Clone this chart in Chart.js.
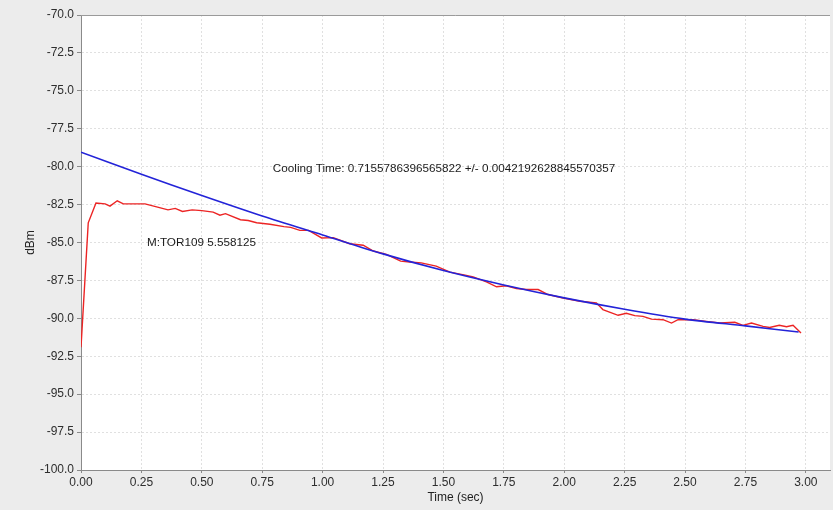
<!DOCTYPE html>
<html>
<head>
<meta charset="utf-8">
<script src="https://cdn.jsdelivr.net/npm/chart.js@4"></script>
<style>
  html, body { margin: 0; padding: 0; background: #ececec; }
  canvas { display: block; }
</style>
</head>
<body>
<canvas id="coolingChart" width="833" height="510"></canvas>
<script>
// measured trace (red)
const measuredTime = [0.000, 0.030, 0.062, 0.100, 0.120, 0.150, 0.175, 0.210, 0.265, 0.313,
  0.360, 0.390, 0.420, 0.460, 0.500, 0.547, 0.575, 0.598, 0.660, 0.692,
  0.727, 0.782, 0.840, 0.868, 0.906, 0.942, 0.996, 1.044, 1.112, 1.168,
  1.210, 1.264, 1.323, 1.360, 1.408, 1.470, 1.527, 1.590, 1.623, 1.678,
  1.720, 1.760, 1.802, 1.844, 1.892, 1.933, 1.995, 2.065, 2.133, 2.160,
  2.223, 2.257, 2.292, 2.326, 2.361, 2.409, 2.444, 2.471, 2.533, 2.588,
  2.644, 2.706, 2.740, 2.775, 2.823, 2.850, 2.890, 2.920, 2.947, 2.980];
const measuredDbm = [-91.9, -83.7, -82.4, -82.45, -82.6, -82.25, -82.45, -82.45, -82.45, -82.65,
  -82.85, -82.75, -82.95, -82.85, -82.9, -83.0, -83.2, -83.1, -83.5, -83.55,
  -83.7, -83.8, -83.95, -84.0, -84.2, -84.2, -84.7, -84.68, -85.08, -85.18,
  -85.56, -85.78, -86.23, -86.29, -86.34, -86.56, -86.95, -87.15, -87.27, -87.6,
  -87.92, -87.85, -88.03, -88.1, -88.1, -88.43, -88.66, -88.87, -88.98, -89.42,
  -89.8, -89.67, -89.82, -89.87, -90.05, -90.09, -90.31, -90.09, -90.09, -90.2,
  -90.31, -90.26, -90.46, -90.31, -90.53, -90.6, -90.46, -90.55, -90.46, -90.97];

// fitted curve (blue)
const fitTime = [0.00, 0.25, 0.50, 0.75, 1.00, 1.25, 1.50, 1.75, 2.00, 2.25, 2.50, 2.75, 2.97];
const fitDbm = [-79.05, -80.5, -81.9, -83.25, -84.5, -85.75, -86.85, -87.8, -88.65, -89.4, -90.05, -90.5, -90.9];

const xMin = 0, xMax = 3.1, xStep = 0.25;
const yMin = -100, yMax = -70, yStep = 2.5;

const coolingLabel = 'Cooling Time: 0.7155786396565822 +/- 0.0042192628845570357';
const markerLabel = 'M:TOR109 5.558125';

const toPoints = (xs, ys) => xs.map((x, i) => ({ x: x, y: ys[i] }));

const textFont = '"Liberation Sans", Arial, Helvetica, sans-serif';

// white plot area, grey outline, and the two text notes
const plotDecor = {
    id: 'plotDecor',
    beforeDraw(chart) {
        const { ctx, chartArea: a } = chart;
        ctx.save();
        ctx.fillStyle = '#ececec';
        ctx.fillRect(0, 0, chart.width, chart.height);
        ctx.fillStyle = '#ffffff';
        ctx.fillRect(a.left, a.top, a.right - a.left, a.bottom - a.top);
        ctx.restore();
    },
    afterDraw(chart) {
        const { ctx, chartArea: a, scales } = chart;
        ctx.save();
        ctx.strokeStyle = '#9a9a9a';
        ctx.lineWidth = 1;
        ctx.beginPath();
        ctx.moveTo(a.left, a.top + 0.5);
        ctx.lineTo(a.right, a.top + 0.5);
        ctx.stroke();

        ctx.fillStyle = '#1a1a1a';
        ctx.font = '11.7px ' + textFont;
        ctx.textBaseline = 'middle';
        ctx.textAlign = 'left';
        ctx.fillText(coolingLabel, scales.x.getPixelForValue(0.794), scales.y.getPixelForValue(-80.13));
        ctx.fillText(markerLabel, scales.x.getPixelForValue(0.273), scales.y.getPixelForValue(-85.03));
        ctx.restore();
    }
};

const ctx = document.getElementById('coolingChart').getContext('2d');

new Chart(ctx, {
    type: 'scatter',
    data: {
        datasets: [
            {
                label: 'Fit',
                data: toPoints(fitTime, fitDbm),
                showLine: true,
                borderColor: '#2323d8',
                borderWidth: 1.6,
                pointRadius: 0,
                tension: 0.3,
                fill: false
            },
            {
                label: 'TOR109',
                data: toPoints(measuredTime, measuredDbm),
                showLine: true,
                borderColor: '#ec2424',
                borderWidth: 1.4,
                pointRadius: 0,
                tension: 0,
                fill: false
            }
        ]
    },
    options: {
        responsive: false,
        animation: false,
        layout: { padding: { top: 15, right: 3, left: 0, bottom: 0 } },
        plugins: {
            legend: { display: false },
            tooltip: { enabled: false }
        },
        scales: {
            x: {
                type: 'linear',
                min: xMin,
                max: xMax,
                afterFit(scale) { scale.height = 40; },
                grid: {
                    color: '#e0e0e0',
                    tickColor: '#8a8a8a',
                    tickLength: 3,
                    tickBorderDash: []
                },
                border: { color: '#8a8a8a', width: 1, dash: [2, 2] },
                ticks: {
                    stepSize: xStep,
                    includeBounds: false,
                    autoSkip: false,
                    maxRotation: 0,
                    padding: 2,
                    color: '#2e2e2e',
                    font: { family: textFont, size: 12 },
                    callback: (v) => Number(v).toFixed(2)
                },
                title: {
                    display: true,
                    text: 'Time (sec)',
                    color: '#222222',
                    font: { family: textFont, size: 12 },
                    padding: { top: 5, bottom: 5 }
                }
            },
            y: {
                type: 'linear',
                min: yMin,
                max: yMax,
                afterFit(scale) { scale.width = 81; },
                grid: {
                    color: '#e0e0e0',
                    tickColor: '#8a8a8a',
                    tickLength: 4,
                    tickBorderDash: []
                },
                border: { color: '#8a8a8a', width: 1, dash: [2, 2] },
                ticks: {
                    stepSize: yStep,
                    includeBounds: false,
                    autoSkip: false,
                    padding: 3,
                    color: '#2e2e2e',
                    font: { family: textFont, size: 12 },
                    callback: (v) => Number(v).toFixed(1)
                },
                title: {
                    display: true,
                    text: 'dBm',
                    color: '#222222',
                    font: { family: textFont, size: 12 },
                    padding: { top: 23, bottom: 4 }
                }
            }
        }
    },
    plugins: [plotDecor]
});
</script>
</body>
</html>
